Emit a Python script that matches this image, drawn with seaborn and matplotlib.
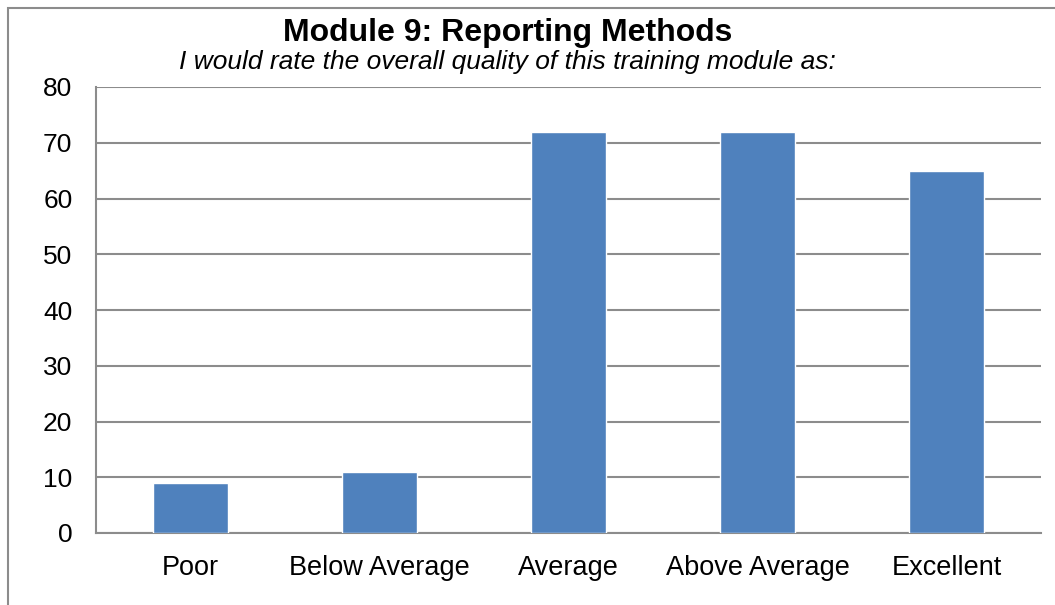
import matplotlib
matplotlib.use("Agg")
import matplotlib.pyplot as plt
import seaborn as sns
import pandas as pd
from matplotlib.patches import Rectangle

categories = ["Poor", "Below Average", "Average", "Above Average", "Excellent"]
counts = [9, 11, 72, 72, 65]
y_ticks = [0, 10, 20, 30, 40, 50, 60, 70, 80]

title = "Module 9: Reporting Methods"
subtitle = "I would rate the overall quality of this training module as:"

sns.set_theme(style="white")
plt.rcParams['font.family'] = ['Liberation Sans', 'DejaVu Sans']

df = pd.DataFrame({"rating": categories, "count": counts})

fig = plt.figure(figsize=(10.55, 6.05), dpi=100, facecolor='w')
ax = fig.add_axes([96 / 1055, 1 - 533 / 605, (1041 - 96) / 1055, (533 - 87) / 605])

sns.barplot(data=df, x="rating", y="count", order=categories, color="#4F81BD",
            saturation=1, width=0.4, ax=ax, zorder=3)

ax.set_ylim(0, 80)
ax.set_yticks(y_ticks)
ax.set_xlim(-0.5, len(categories) - 0.5)
ax.yaxis.grid(True, color="#8C8C8C", linewidth=1.5, zorder=0)
ax.set_axisbelow(True)
for side in ["top", "right"]:
    ax.spines[side].set_visible(False)
for side in ["left", "bottom"]:
    ax.spines[side].set_color("#8C8C8C")
    ax.spines[side].set_linewidth(1.5)
ax.tick_params(axis="both", length=0, labelsize=19, labelcolor="black")
ax.tick_params(axis="x", labelsize=19.5, pad=16)
ax.tick_params(axis="y", pad=17)
ax.set_xlabel("")
ax.set_ylabel("")

fig.text(508 / 1055, 1 - 33 / 605, title, ha="center", va="center",
         fontsize=23, fontweight="bold", color="black")
fig.text(507 / 1055, 1 - 62 / 605, subtitle, ha="center", va="center",
         fontsize=19, fontstyle="italic", color="black")

# outer chart border (only left and top visible in the reference)
fig.patches.append(Rectangle((8 / 1055, -0.1), 1.2, 1.1 - 8 / 605, transform=fig.transFigure,
                             fill=False, edgecolor="#8C8C8C", linewidth=1.5))

fig.savefig("out.png", dpi=100)
plt.close()
